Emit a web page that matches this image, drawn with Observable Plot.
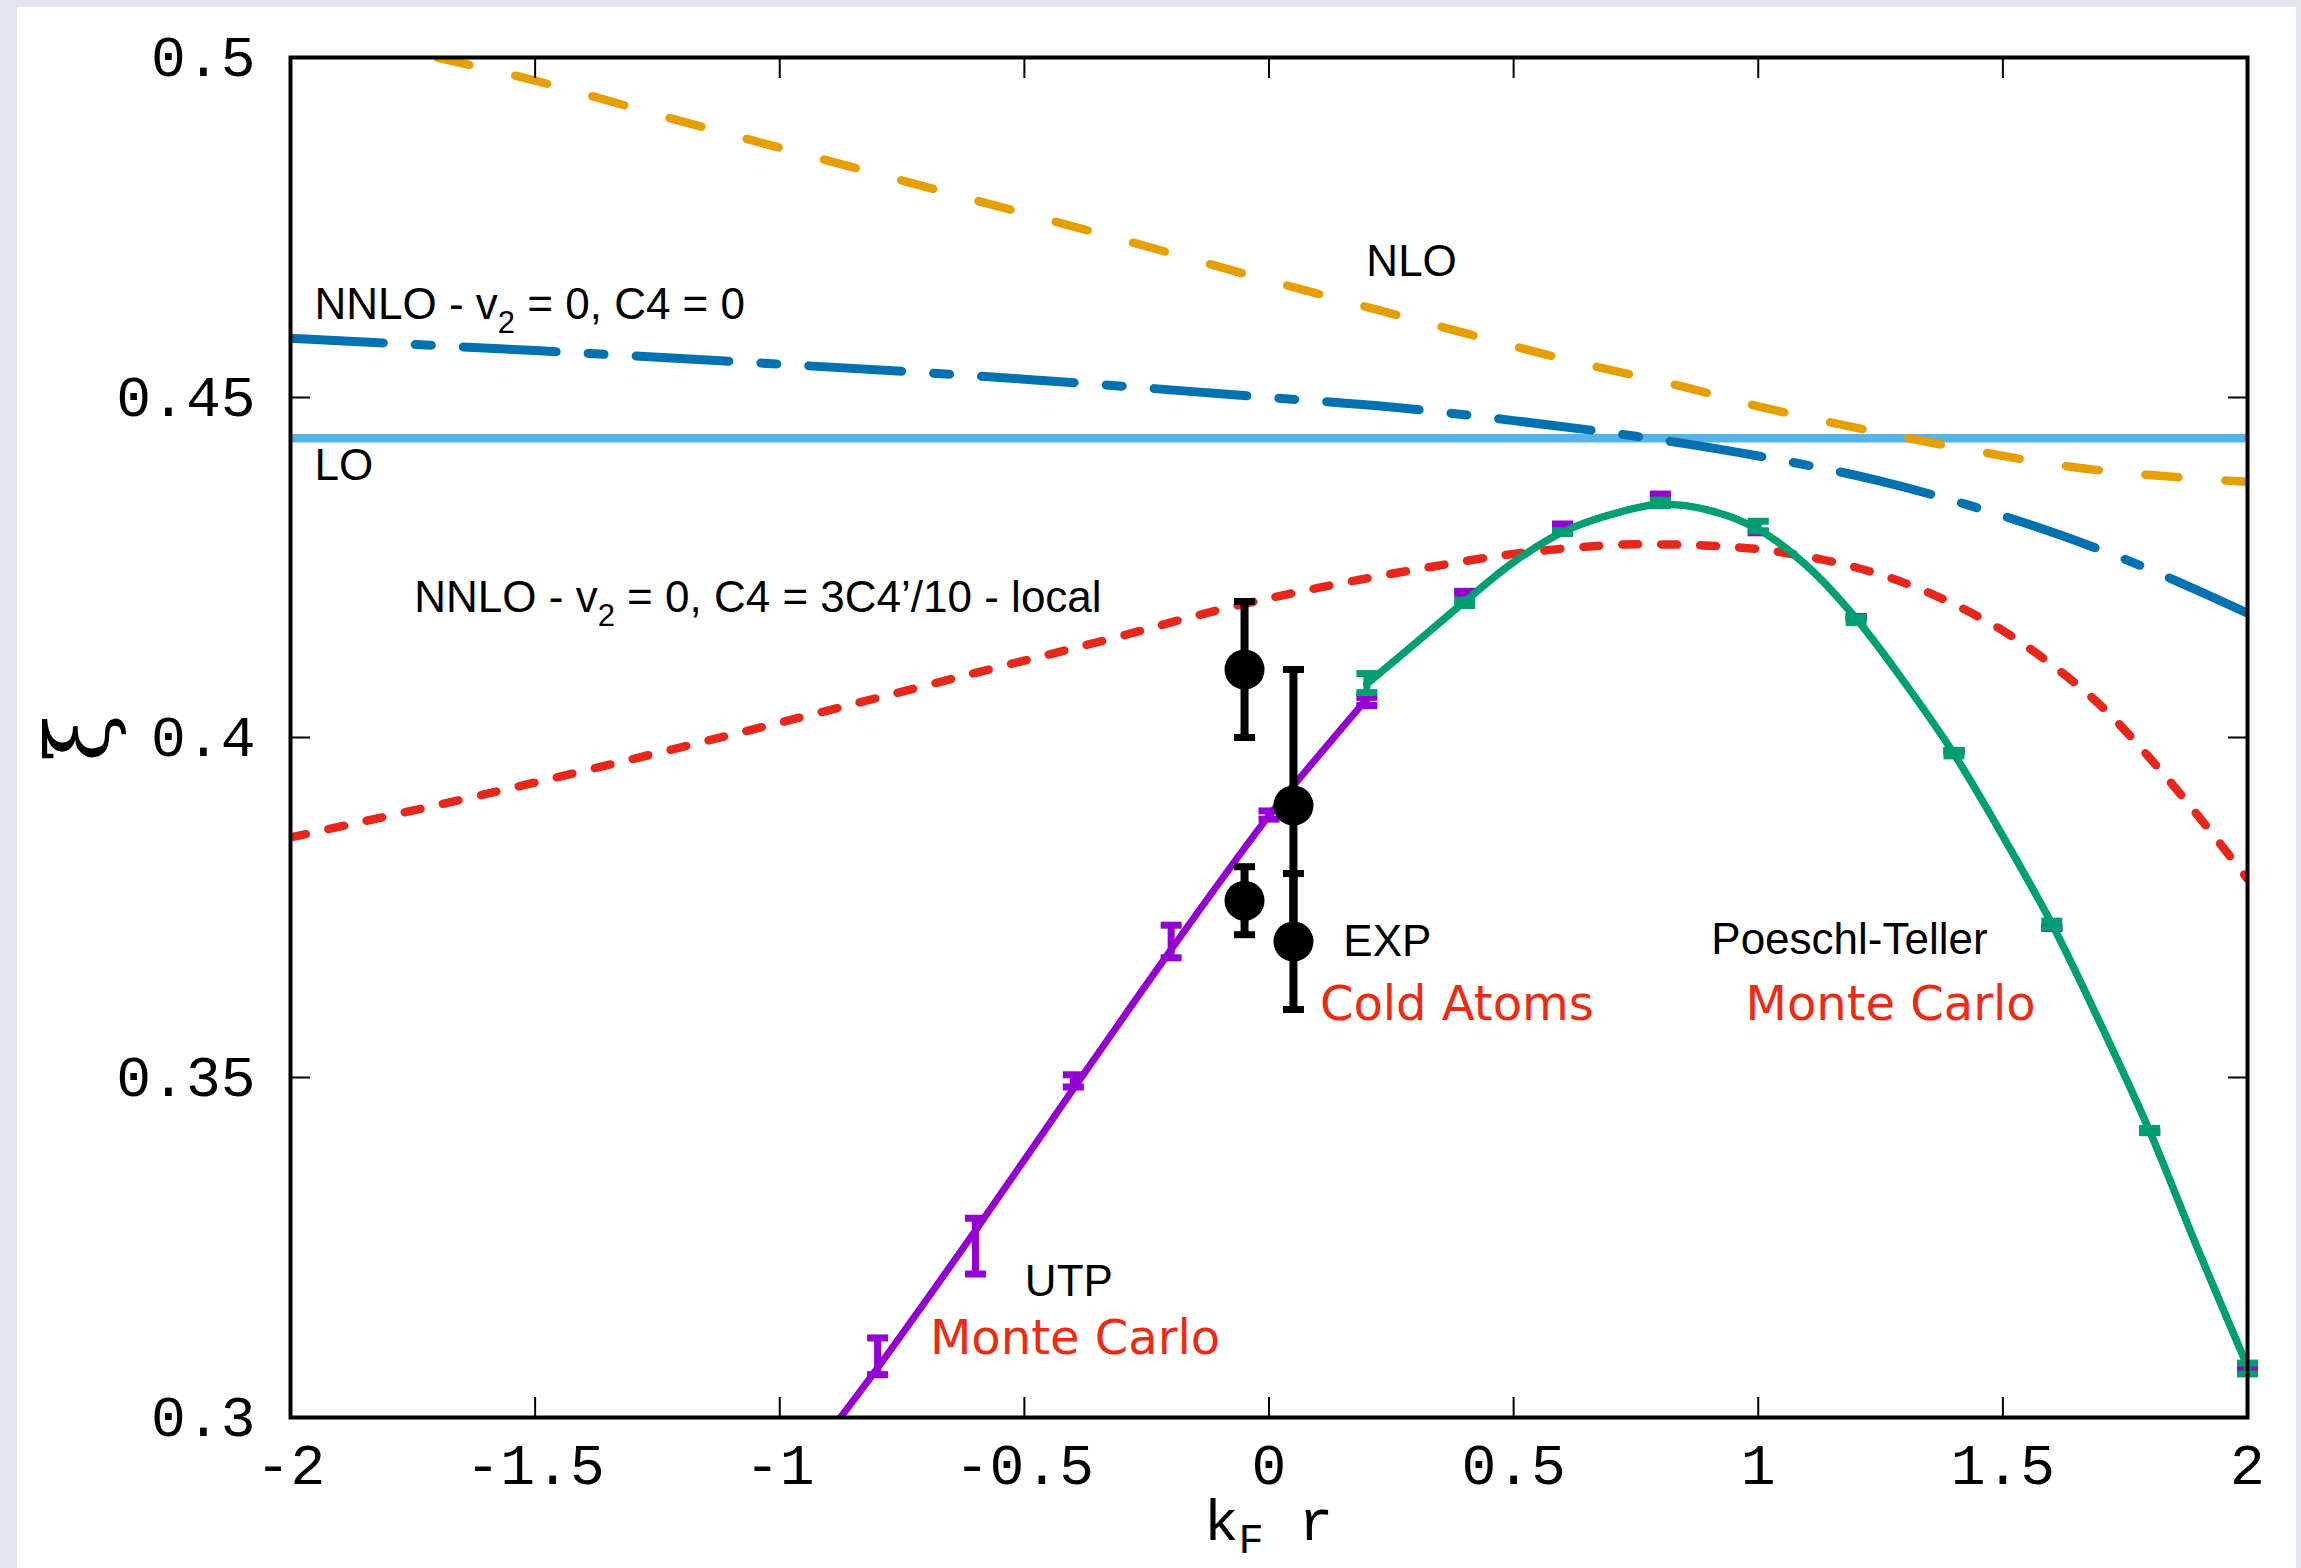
<!DOCTYPE html>
<html><head><meta charset="utf-8">
<script src="https://cdn.jsdelivr.net/npm/d3@7"></script>
<script src="https://cdn.jsdelivr.net/npm/@observablehq/plot@0.6"></script>
<style>
html,body{margin:0;padding:0;background:#e1e5e9;width:2301px;height:1568px;overflow:hidden}
#card{position:absolute;left:17px;top:7px;width:2279px;height:1561px;background:#fff}
#chart{position:absolute;left:0;top:0}
</style></head><body><div id="card"></div><div id="chart"></div>
<script>
// ---- tick labels ----
const xTicks = [-2,-1.5,-1,-0.5,0,0.5,1,1.5,2];
const xTickLabels = ["-2","-1.5","-1","-0.5","0","0.5","1","1.5","2"];
const yTicks = [0.3,0.35,0.4,0.45,0.5];
const yTickLabels = ["0.3","0.35","0.4","0.45","0.5"];

// ---- theory curves ----
const nloX = [-1.70,-1.5,-1.2,-0.9,-0.6,-0.3,0,0.3,0.6,0.84,1.0,1.15,1.3,1.47,1.63,1.8,2.0];
const nloY = [0.5000,0.4966,0.4906,0.4848,0.4790,0.4732,0.4672,0.4614,0.4557,0.4517,0.4487,0.4463,0.4441,0.4418,0.4399,0.4386,0.4376];
const nnlo0X = [-2,-1.5,-1,-0.5,0,0.25,0.5,0.75,1,1.25,1.5,1.75,2];
const nnlo0Y = [0.4587,0.4569,0.4549,0.4527,0.4500,0.4486,0.4466,0.4443,0.4414,0.4377,0.4326,0.4262,0.4183];
const loX = [-2,2];
const loY = [0.444,0.444];
const nnloLocalX = [-2,-1.6,-1.2,-0.9,-0.6,-0.33,-0.1,0.1,0.3,0.5,0.7,0.8,0.9,1.0,1.1,1.2,1.3,1.4,1.5,1.6,1.7,1.8,1.9,2.0];
const nnloLocalY = [0.3853,0.3917,0.3986,0.4040,0.4095,0.4144,0.4188,0.4220,0.4247,0.4270,0.4283,0.4284,0.4282,0.4277,0.4266,0.4250,0.4227,0.4196,0.4157,0.4107,0.4047,0.3970,0.3884,0.3792];

// ---- Monte Carlo fits ----
const utpFitX = [-0.876,-0.8,-0.6,-0.4,-0.2,0,0.1,0.2];
const utpFitY = [0.3000,0.3073,0.3275,0.3483,0.3688,0.3885,0.3972,0.4057];
const ptFitX = [0.2,0.3,0.4,0.5,0.6,0.7,0.8,0.9,1.0,1.1,1.2,1.3,1.4,1.5,1.6,1.7,1.8,1.9,2.0];
const ptFitY = [0.4079,0.4139,0.4200,0.4258,0.4302,0.4328,0.4343,0.4334,0.4306,0.4252,0.4175,0.4080,0.3976,0.3855,0.3726,0.3578,0.3421,0.3245,0.3075];

// ---- Monte Carlo points ----
const utpX = [-0.8,-0.6,-0.4,-0.2,0,0.2,0.4,0.6,0.8,1.0,1.2,1.4,1.6,1.8,2.0];
const utpY = [0.3090,0.3252,0.3495,0.3700,0.3886,0.4053,0.4213,0.4312,0.4356,0.4302,0.4177,0.3980,0.3720,0.3420,0.3072];
const utpErr = [0.0027,0.0041,0.0009,0.0024,0.0006,0.0006,0.0002,0.0002,0.0002,0.0001,0.0001,0.0001,0.0001,0.0001,0.0001];
const ptX = [0.2,0.4,0.6,0.8,1.0,1.2,1.4,1.6,1.8,2.0];
const ptY = [0.4080,0.4198,0.4302,0.4345,0.4311,0.4173,0.3977,0.3725,0.3422,0.3072];
const ptErr = [0.0014,0.0004,0.0002,0.0004,0.0007,0.0004,0.0004,0.0005,0.0003,0.0008];

// ---- experiment ----
const expX = [-0.05,0.05,-0.05,0.05];
const expY = [0.410,0.390,0.376,0.370];
const expErr = [0.010,0.020,0.005,0.010];

// ---- annotations ----
const blackText = ["NNLO - v_2 = 0, C4 = 0","LO","NLO","NNLO - v_2 = 0, C4 = 3C4\u2019/10 - local","EXP","Poeschl-Teller","UTP"];
const blackX = [-1.951,-1.951,0.199,-1.747,0.152,0.904,-0.499];
const blackY = [0.4616,0.4379,0.4679,0.4184,0.3678,0.3681,0.3179];
const redText = ["Cold Atoms","Monte Carlo","Monte Carlo"];
const redX = [0.104,0.974,-0.693];
const redY = [0.3584,0.3584,0.3094];

const rows = (xs, ys) => xs.map((x, i) => ({x, y: ys[i]}));
const errRows = (xs, ys, es) => xs.map((x, i) => ({x, y: ys[i], lo: ys[i] - es[i], hi: ys[i] + es[i]}));
const labelRows = (ts, xs, ys) => ts.map((text, i) => ({text, x: xs[i], y: ys[i]}));

const capSymbol = {draw(ctx, size) {
  const w = Math.sqrt(size / Math.PI), t = 3.5;
  ctx.moveTo(-w, -t); ctx.lineTo(w, -t); ctx.lineTo(w, t); ctx.lineTo(-w, t); ctx.closePath();
}};
function errorBars(data, color, stem) {
  return [
    Plot.ruleX(data, {x: "x", y1: "lo", y2: "hi", stroke: color, strokeWidth: stem}),
    Plot.dot(data, {x: "x", y: "hi", symbol: capSymbol, r: 10.5, fill: color, stroke: null}),
    Plot.dot(data, {x: "x", y: "lo", symbol: capSymbol, r: 10.5, fill: color, stroke: null})
  ];
}

const ORANGE = "#E69F00", BLUE = "#0072B2", SKY = "#56B4E9", RED = "#e8261a",
      PURPLE = "#9400D3", GREEN = "#009E73", TXTRED = "#ee2a12";
const mono = "Liberation Mono, DejaVu Sans Mono, monospace";

const utp = errRows(utpX, utpY, utpErr);
const pt = errRows(ptX, ptY, ptErr);
const exp = errRows(expX, expY, expErr);

const plot = Plot.plot({
  width: 2301, height: 1568,
  marginLeft: 290, marginRight: 54, marginTop: 57, marginBottom: 151,
  x: {domain: [-2, 2]},
  y: {domain: [0.3, 0.5]},
  style: {background: "transparent", fontFamily: "Liberation Sans, Arial, sans-serif", color: "black"},
  marks: [
    Plot.line(rows(loX, loY), {x: "x", y: "y", stroke: SKY, strokeWidth: 8.5, clip: true}),
    Plot.line(rows(nloX, nloY), {x: "x", y: "y", stroke: ORANGE, strokeWidth: 8.5, strokeDasharray: "33,47", curve: "catmull-rom", clip: true}),
    Plot.line(rows(nnlo0X, nnlo0Y), {x: "x", y: "y", stroke: BLUE, strokeWidth: 9, strokeDasharray: "93,32,16,32", curve: "catmull-rom", clip: true}),
    Plot.line(rows(nnloLocalX, nnloLocalY), {x: "x", y: "y", stroke: RED, strokeWidth: 8.5, strokeDasharray: "16,23", curve: "catmull-rom", clip: true}),
    Plot.line(rows(utpFitX, utpFitY), {x: "x", y: "y", stroke: PURPLE, strokeWidth: 7, curve: "catmull-rom", clip: true}),
    ...errorBars(utp, PURPLE, 7),
    Plot.line(rows(ptFitX, ptFitY), {x: "x", y: "y", stroke: GREEN, strokeWidth: 7.5, curve: "catmull-rom", clip: true}),
    ...errorBars(pt, GREEN, 7),
    ...errorBars(exp, "black", 8),
    Plot.dot(exp, {x: "x", y: "y", r: 20, fill: "black", stroke: null}),
    Plot.text(labelRows(blackText, blackX, blackY), {x: "x", y: "y", text: "text", textAnchor: "start", lineAnchor: "bottom", fontSize: 44, fontFamily: "Liberation Sans, Arial, sans-serif", fill: "black"}),
    Plot.text(labelRows(redText, redX, redY), {x: "x", y: "y", text: "text", textAnchor: "start", lineAnchor: "bottom", fontSize: 48, fontFamily: "DejaVu Sans, sans-serif", fill: TXTRED}),
    // ticks (inward, mirrored)
    Plot.axisX({anchor: "bottom", ticks: xTicks, tickSize: -20, fill: "none", strokeWidth: 2, label: null}),
    Plot.axisX({anchor: "top", ticks: xTicks, tickSize: -20, fill: "none", strokeWidth: 2, label: null}),
    Plot.axisY({anchor: "left", ticks: yTicks, tickSize: -20, fill: "none", strokeWidth: 2, label: null}),
    Plot.axisY({anchor: "right", ticks: yTicks, tickSize: -20, fill: "none", strokeWidth: 2, label: null}),
    // tick labels
    Plot.axisX({anchor: "bottom", ticks: xTicks, tickSize: 0, tickPadding: 25, tickFormat: d => xTickLabels[xTicks.indexOf(d)], fontSize: 58, fontFamily: mono, label: null}),
    Plot.axisY({anchor: "left", ticks: yTicks, tickSize: 0, tickPadding: 35, tickFormat: d => yTickLabels[yTicks.indexOf(d)], fontSize: 58, fontFamily: mono, label: null}),
    Plot.frame({stroke: "black", strokeWidth: 4})
  ]
});
document.getElementById("chart").append(plot);

const svg = d3.select(plot);
// subscripts
svg.selectAll("text").each(function() {
  const t = this.textContent;
  if (!t.includes("_2")) return;
  const parts = t.split("_2");
  const sel = d3.select(this);
  sel.text(null);
  sel.append("tspan").text(parts[0]);
  sel.append("tspan").attr("font-size", 31).attr("dy", 14).text("2");
  sel.append("tspan").attr("dy", -14).text(parts[1]);
});
// axis labels
const xs = plot.scale("x");
const cx = xs.apply(0);
const xl = svg.append("text").attr("x", cx).attr("y", 1540).attr("text-anchor", "middle")
  .attr("font-family", mono).attr("font-size", 58).attr("fill", "black");
xl.append("tspan").text("k");
xl.append("tspan").attr("font-size", 42).attr("dy", 13).text("F");
xl.append("tspan").attr("dy", -13).text("\u00a0r");
svg.append("text").attr("transform", "translate(108,738) rotate(-90)").attr("text-anchor", "middle")
  .attr("font-family", "DejaVu Serif, serif").attr("font-size", 86).attr("fill", "black").text("\u03be");
</script></body></html>
